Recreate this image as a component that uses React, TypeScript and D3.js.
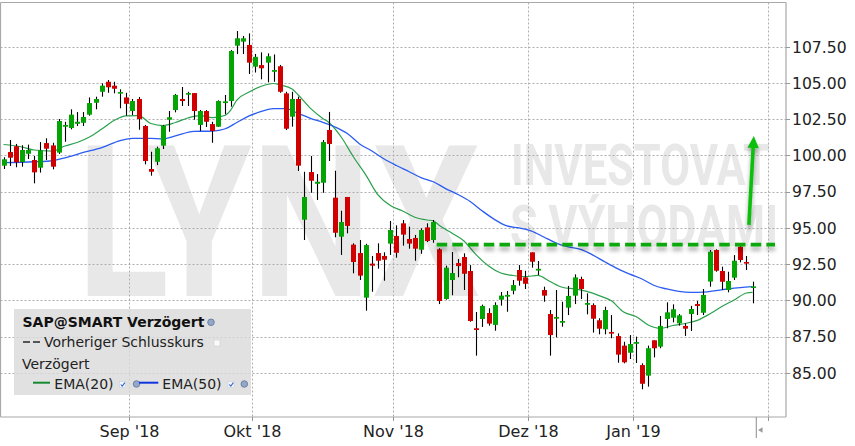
import React, { useLayoutEffect, useRef } from 'react';
import * as d3 from 'd3';

// ---- Data (SAP@SMART daily candles, Aug 2018 – Jan 2019) ----
const opens = [
  99.29, 100.23, 100.63, 99.54, 100.11, 99.68, 99.15, 100.85, 100.69, 100.19,
  101.98, 101.89, 102.18, 102.25, 102.81, 103.63, 104.39, 105.08, 104.81, 104.26,
  104.0, 103.06, 103.89, 102.03, 99.06, 99.56, 100.67, 102.46, 103.13, 103.89,
  104.19, 104.3, 102.1, 103.06, 102.16, 101.98, 103.61, 103.75, 107.57, 107.85,
  107.62, 106.12, 106.23, 106.4, 105.77, 106.15, 104.28, 102.67, 103.89, 95.56,
  98.85, 98.04, 98.11, 101.75, 97.08, 94.39, 97.13, 93.84, 93.26, 90.18,
  92.53, 93.26, 93.06, 93.91, 94.44, 95.31, 94.23, 94.3, 93.49, 95.03,
  94.16, 93.52, 90.09, 91.4, 92.57, 92.99, 92.02, 88.07, 88.71, 89.12,
  88.3, 90.04, 90.25, 90.66, 92.09, 91.58, 93.31, 92.05, 90.71, 89.05,
  88.73, 88.45, 89.49, 90.32, 91.47, 89.69, 89.67, 88.62, 88.0, 87.81,
  87.53, 86.87, 86.38, 87.0, 85.53, 84.8, 87.24, 86.8, 88.71, 88.8,
  88.41, 88.23, 89.05, 89.74, 89.14, 91.29, 93.47, 92.02, 90.71, 91.56,
  93.7, 92.64, 90.85,
];
const highs = [
  99.87, 101.06, 100.79, 100.7, 100.74, 99.96, 100.92, 101.18, 100.87, 102.51,
  102.32, 103.18, 102.99, 102.99, 104.0, 104.05, 104.97, 105.2, 105.08, 104.56,
  104.32, 103.89, 104.03, 102.1, 100.25, 100.6, 102.1, 103.06, 104.24, 104.72,
  104.39, 104.3, 103.13, 103.13, 102.32, 103.8, 104.17, 107.27, 108.58, 108.24,
  108.42, 107.0, 107.11, 107.04, 106.97, 106.24, 104.39, 104.39, 104.05, 98.87,
  99.96, 98.71, 101.06, 103.0, 98.94, 96.18, 97.13, 93.93, 94.16, 93.9,
  93.06, 93.93, 93.31, 95.47, 95.17, 95.54, 95.08, 94.51, 94.97, 95.31,
  95.54, 93.59, 92.39, 93.33, 92.85, 93.24, 92.43, 89.19, 89.7, 89.45,
  89.86, 90.57, 90.64, 91.4, 92.43, 92.04, 93.31, 92.71, 90.94, 89.33,
  90.71, 89.9, 90.99, 91.79, 91.63, 90.48, 89.79, 88.76, 89.56, 88.98,
  87.72, 87.14, 87.6, 87.49, 85.65, 86.87, 87.24, 88.92, 89.86, 89.72,
  89.05, 88.41, 89.61, 89.95, 90.78, 93.47, 93.52, 92.32, 91.97, 93.12,
  93.9, 93.06, 91.29,
];
const lows = [
  99.06, 99.27, 99.18, 99.22, 99.75, 98.07, 98.81, 99.68, 99.04, 100.1,
  100.94, 101.8, 102.03, 102.03, 102.74, 103.18, 104.05, 104.32, 104.28, 103.25,
  102.74, 102.78, 101.77, 99.38, 98.6, 99.33, 100.44, 101.63, 102.97, 103.41,
  103.41, 102.46, 101.68, 101.96, 100.87, 101.96, 102.83, 103.36, 106.99, 106.99,
  105.62, 105.72, 105.25, 105.04, 105.08, 104.32, 101.75, 101.98, 98.92, 94.16,
  97.42, 96.92, 97.42, 99.61, 94.35, 93.13, 94.62, 91.86, 91.4, 89.28,
  90.59, 92.18, 91.35, 93.13, 92.94, 93.77, 93.56, 92.73, 93.21, 94.02,
  93.97, 89.74, 90.04, 90.35, 91.59, 90.71, 88.52, 86.18, 88.16, 88.25,
  87.9, 89.63, 89.21, 90.41, 91.01, 90.78, 92.25, 91.75, 89.9, 86.18,
  87.44, 88.18, 88.98, 89.74, 90.09, 89.03, 87.77, 87.65, 87.65, 87.38,
  85.69, 85.65, 85.95, 85.67, 83.86, 84.04, 86.06, 86.69, 88.07, 88.48,
  88.25, 87.54, 87.88, 88.98, 88.98, 90.94, 91.97, 90.71, 90.55, 91.4,
  92.62, 92.09, 89.79,
];
const closes = [
  99.73, 99.84, 99.52, 100.37, 100.37, 98.83, 100.35, 100.46, 99.22, 102.37,
  102.1, 102.81, 102.32, 102.65, 103.61, 103.89, 104.81, 104.7, 104.6, 104.37,
  103.56, 103.75, 102.51, 99.61, 98.87, 100.49, 102.03, 102.63, 104.17, 103.75,
  104.3, 103.06, 103.06, 102.32, 101.68, 103.75, 103.73, 107.2, 108.08, 108.08,
  106.4, 106.8, 106.01, 106.84, 105.89, 104.39, 101.84, 103.89, 99.29, 97.13,
  98.25, 98.18, 100.92, 100.79, 94.66, 95.4, 95.13, 92.64, 91.7, 93.81,
  92.39, 92.73, 92.8, 94.85, 93.28, 94.53, 93.91, 93.56, 94.85, 94.09,
  95.4, 89.95, 92.25, 91.88, 92.36, 91.83, 88.57, 87.95, 89.61, 88.39,
  89.67, 90.32, 90.37, 91.05, 91.35, 91.14, 92.66, 92.17, 90.32, 87.6,
  88.85, 88.57, 90.3, 91.58, 90.78, 89.81, 88.73, 88.04, 89.33, 87.7,
  86.25, 85.72, 86.98, 87.12, 84.24, 86.69, 86.69, 88.23, 89.17, 89.38,
  88.96, 88.04, 89.4, 89.61, 90.37, 93.35, 92.04, 91.28, 91.33, 92.73,
  92.78, 92.53, 90.96,
];

// EMA readings (candle index, value)
const ema20Idx = [0, 3, 5, 8, 10, 12, 14, 16, 18, 20, 22, 24, 26, 28, 30, 32, 34, 36, 37, 38, 40, 42, 44, 45, 47, 48, 50, 52, 53, 55, 57, 59, 61, 63, 65, 67, 69, 70, 71, 73, 75, 77, 79, 81, 83, 85, 87, 89, 91, 93, 95, 97, 99, 101, 103, 105, 107, 109, 111, 113, 115, 117, 119, 121, 122];
const ema20 = [100.75, 100.58, 100.37, 100.3, 100.65, 100.89, 101.27, 101.82, 102.41, 102.72, 102.74, 102.2, 102.06, 102.27, 102.58, 102.74, 102.6, 102.75, 103.13, 103.82, 104.37, 104.77, 104.96, 104.86, 104.58, 104.17, 103.24, 102.55, 102.27, 101.27, 99.89, 98.65, 97.27, 96.54, 96.16, 95.73, 95.54, 95.49, 95.16, 94.64, 94.09, 93.13, 92.37, 91.88, 91.71, 91.63, 91.72, 91.3, 90.9, 90.78, 90.61, 90.32, 89.97, 89.19, 88.88, 88.3, 88.07, 88.26, 88.4, 88.61, 89.05, 89.57, 90.02, 90.5, 90.55];
const ema50Idx = [0, 5, 8, 10, 13, 16, 19, 21, 24, 26, 28, 31, 34, 36, 38, 40, 42, 44, 46, 48, 50, 52, 54, 56, 58, 60, 62, 64, 66, 68, 70, 72, 74, 76, 78, 80, 82, 84, 86, 88, 90, 92, 94, 96, 98, 100, 102, 104, 106, 108, 110, 112, 114, 116, 118, 120, 122];
const ema50 = [99.5, 99.56, 99.63, 99.83, 100.2, 100.54, 101.01, 101.18, 101.17, 101.13, 101.34, 101.65, 101.68, 101.82, 102.27, 102.72, 103.03, 103.22, 103.23, 102.89, 102.56, 102.28, 101.96, 101.51, 100.79, 100.3, 99.75, 99.3, 98.89, 98.47, 98.18, 97.71, 97.3, 96.82, 96.16, 95.57, 95.13, 94.99, 94.78, 94.37, 93.95, 93.68, 93.51, 93.12, 92.64, 92.19, 91.81, 91.47, 91.02, 90.78, 90.61, 90.55, 90.57, 90.67, 90.78, 90.87, 90.94];

const yTicks = [85, 87.5, 90, 92.5, 95, 97.5, 100, 102.5, 105, 107.5];
const monthLabels = ["Sep '18", "Okt '18", "Nov '18", "Dez '18", "Jan '19", ''];
const monthStarts = [21, 41, 64, 86, 103, 125];

// Annotation: resistance level and breakout arrow
const resistanceLevel = 93.84;
const resistanceSpan = [70.55, 125.65];
const arrowStart = [121.4, 95.2];
const arrowEnd = [122.2, 101.34];

const W = 855;
const H = 446;
const PL = 0.5;
const PT = 2.5;
const PR = 786;
const PB = 417;
const FONT = "Verdana, 'DejaVu Sans', sans-serif";
const WM_FONT = "Roboto, 'DejaVu Sans', sans-serif";

// Watermark text fitted to a given width by horizontal scaling
function FitText(props: { x: number; y: number; width: number; size: number; children: string }) {
  const ref = useRef<SVGTextElement>(null);
  const gref = useRef<SVGGElement>(null);
  useLayoutEffect(() => {
    const t = ref.current;
    const g = gref.current;
    if (!t || !g) return;
    const w = t.getComputedTextLength();
    const s = w > 0 ? props.width / w : 1;
    g.setAttribute('transform', `translate(${props.x},${props.y}) scale(${s},1)`);
  });
  return (
    <g ref={gref} transform={`translate(${props.x},${props.y})`}>
      <text ref={ref} x={0} y={0} fontSize={props.size}>
        {props.children}
      </text>
    </g>
  );
}

export default function App() {
  const x = d3.scaleLinear().domain([0, 122]).range([3.5, 752.58]);
  const y = d3.scaleLinear().domain([85, 107.5]).range([372.74, 46.7]);

  const line = d3
    .line<[number, number]>()
    .x((d) => x(d[0]))
    .y((d) => y(d[1]))
    .curve(d3.curveMonotoneX);

  const e20 = line(ema20Idx.map((i, k) => [i, ema20[k]] as [number, number])) || '';
  const e50 = line(ema50Idx.map((i, k) => [i, ema50[k]] as [number, number])) || '';

  const green = '#04a404';
  const red = '#d10000';

  const candles = opens.map((o, i) => {
    const c = closes[i];
    const up = c >= o;
    const cx = Math.round(x(i)) + 0.5;
    const top = y(Math.max(o, c));
    const bot = y(Math.min(o, c));
    const h = Math.max(bot - top, 1.6);
    return (
      <g key={i}>
        <line x1={cx} x2={cx} y1={y(highs[i])} y2={y(lows[i])} stroke="#000" strokeWidth={1.1} />
        <rect x={cx - 2.5} y={top} width={5} height={h} fill={up ? green : red} />
      </g>
    );
  });

  const ax = x(arrowStart[0]);
  const ay = y(arrowStart[1]);
  const tx = x(arrowEnd[0]);
  const ty = y(arrowEnd[1]);
  const ang = Math.atan2(ty - ay, tx - ax);
  const headLen = 12;
  const headW = 5.7;
  const bx = tx - headLen * Math.cos(ang);
  const by = ty - headLen * Math.sin(ang);
  const px = -Math.sin(ang);
  const py = Math.cos(ang);

  const ry = y(resistanceLevel);

  return (
    <svg
      width={W}
      height={H}
      style={{ position: 'absolute', left: 0, top: 0, background: '#fff' }}
      fontFamily={FONT}
    >
      <defs>
        <filter id="shadow" filterUnits="userSpaceOnUse" x={0} y={0} width={W} height={H}>
          <feDropShadow dx="0" dy="4" stdDeviation="2" floodColor="#000" floodOpacity="0.35" />
        </filter>
        <clipPath id="plotClip">
          <rect x={PL} y={PT} width={PR - PL} height={PB - PT} />
        </clipPath>
      </defs>
      <rect x={0} y={0} width={W} height={H} fill="#fff" />

      {/* Watermark */}
      <g fill="#e8e8e8" fontFamily={WM_FONT} fontWeight={700}>
        <FitText x={77} y={296} width={403} size={212}>LYNX</FitText>
        <FitText x={511} y={185} width={259} size={58}>INVESTOVAT</FitText>
        <FitText x={510} y={246} width={268} size={58}>S VÝHODAMI</FitText>
      </g>

      {/* Gridlines */}
      <g stroke="#aeaeae" strokeWidth={1} strokeDasharray="2,2">
        {yTicks.map((t) => (
          <line key={'h' + t} x1={PL} x2={PR} y1={Math.round(y(t)) + 0.5} y2={Math.round(y(t)) + 0.5} />
        ))}
        {monthStarts.map((m) => {
          const gx = Math.round(x(m - 0.5)) + 0.5;
          return <line key={'v' + m} x1={gx} x2={gx} y1={PT} y2={PB} />;
        })}
      </g>

      {/* Legend */}
      <g>
        <rect x={14} y={309} width={237} height={86} fill="#d9d9d9" fillOpacity={0.8} />
        <text x={22.5} y={326.5} fontSize={14} fontWeight={700} fill="#111">SAP@SMART Verzögert</text>
        <circle cx={211} cy={322.3} r={3.3} fill="#93a8c8" stroke="#5f7398" strokeWidth={0.8} />
        <line x1={23} x2={30} y1={342} y2={342} stroke="#555" strokeWidth={2} />
        <line x1={33} x2={40} y1={342} y2={342} stroke="#555" strokeWidth={2} />
        <text x={44} y={347.3} fontSize={14} fill="#222">Vorheriger Schlusskurs</text>
        <rect x={214} y={340} width={6} height={6} fill="#fafafa" stroke="#cfcfcf" strokeWidth={0.6} />
        <text x={22} y={369} fontSize={14} fill="#222">Verzögert</text>
        <line x1={33} x2={50} y1={382.7} y2={382.7} stroke="#148a30" strokeWidth={2} />
        <text x={54.3} y={389.3} fontSize={14} fill="#222">EMA(20)</text>
        <rect x={119.5} y={381.5} width={6} height={6} fill="#f3f6fc" stroke="#c2cbe0" strokeWidth={0.5} />
        <polyline points="120.8,384.5 122.3,386.2 124.8,382.6" fill="none" stroke="#2d63c8" strokeWidth={1.1} />
        <circle cx={136.5} cy={384} r={3.3} fill="#93a8c8" stroke="#5f7398" strokeWidth={0.8} />
        <line x1={139} x2={158.3} y1={382.7} y2={382.7} stroke="#1034e0" strokeWidth={2} />
        <text x={162.3} y={389.3} fontSize={14} fill="#222">EMA(50)</text>
        <rect x={228} y={381.5} width={6} height={6} fill="#f3f6fc" stroke="#c2cbe0" strokeWidth={0.5} />
        <polyline points="229.3,384.5 230.8,386.2 233.3,382.6" fill="none" stroke="#2d63c8" strokeWidth={1.1} />
        <circle cx={244.3} cy={384} r={3.3} fill="#93a8c8" stroke="#5f7398" strokeWidth={0.8} />
      </g>

      {/* EMA lines */}
      <g clipPath="url(#plotClip)" fill="none">
        <path d={e20} stroke="#2aa04c" strokeWidth={1.2} />
        <path d={e50} stroke="#2b5cf2" strokeWidth={1.3} />
      </g>

      {/* Candles */}
      <g>{candles}</g>

      {/* Resistance line */}
      <g filter="url(#shadow)">
        <line
          x1={x(resistanceSpan[0])}
          x2={x(resistanceSpan[1])}
          y1={ry}
          y2={ry}
          stroke="#0aa80a"
          strokeWidth={3.6}
          strokeDasharray="10.5,5.2"
        />
      </g>

      {/* Breakout arrow */}
      <g fill="#0abf0a" stroke="none" filter="url(#shadow)">
        <line x1={ax} y1={ay} x2={bx} y2={by} stroke="#0abf0a" strokeWidth={3.6} />
        <polygon
          points={`${tx},${ty} ${bx + px * headW},${by + py * headW} ${bx - px * headW},${by - py * headW}`}
        />
      </g>

      {/* Frame */}
      <g stroke="#a8a8a8" strokeWidth={1.2} fill="none">
        <line x1={PL} x2={PR} y1={PT} y2={PT} />
        <line x1={PL} x2={PL} y1={PT} y2={PB} />
        <line x1={PR} x2={PR} y1={PT} y2={PB} />
        <line x1={PL} x2={PR} y1={PB} y2={PB} />
      </g>

      {/* Y axis ticks + labels */}
      <g>
        {yTicks.map((t) => (
          <g key={'yt' + t}>
            <line x1={PR} x2={PR + 4} y1={Math.round(y(t)) + 0.5} y2={Math.round(y(t)) + 0.5} stroke="#999" />
            <text x={792} y={y(t) + 5.8} fontSize={15.6} fill="#222">
              {d3.format('.2f')(t)}
            </text>
          </g>
        ))}
      </g>

      {/* X axis ticks + labels */}
      <g>
        {monthStarts.map((m, k) => {
          const gx = Math.round(x(m - 0.5)) + 0.5;
          return (
            <g key={'xt' + m}>
              <line x1={gx} x2={gx} y1={PB} y2={PB + 4} stroke="#999" />
              {monthLabels[k] ? (
                <text x={gx} y={437} fontSize={16} fill="#222" textAnchor="middle">
                  {monthLabels[k]}
                </text>
              ) : null}
            </g>
          );
        })}
      </g>

      {/* Current-position marker */}
      <line x1={x(122) + 3.7} x2={x(122) + 3.7} y1={PB} y2={438} stroke="#8a8a8a" strokeWidth={1} />
      <polygon
        points={`${x(122) + 5.5},430 ${x(122) + 10},427.2 ${x(122) + 10},432.8`}
        fill="#9a9a9a"
      />
    </svg>
  );
}
